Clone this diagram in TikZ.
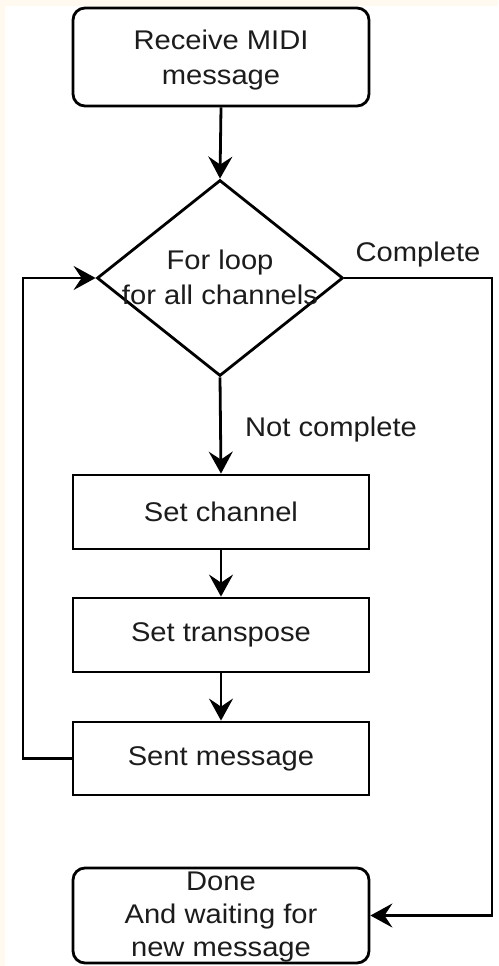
\documentclass[tikz,border=0pt]{standalone}
\usepackage{fontspec}
\setmainfont{Liberation Sans}[FakeStretch=1.08]
\usetikzlibrary{arrows.meta,shapes.geometric}
\definecolor{cream}{HTML}{FFF9F0}
\definecolor{txt}{HTML}{1C1C1C}
\begin{document}
\begin{tikzpicture}[x=1pt,y=-1pt,
  every node/.style={font=\fontsize{27}{35}\selectfont, text=txt},
  box/.style={draw=black, line width=2.8pt, rectangle, minimum width=296pt, inner sep=0pt, align=center},
  rbox/.style={box, rounded corners=12pt},
  dia/.style={draw=black, line width=2.8pt, diamond, minimum width=246pt, minimum height=196pt, inner sep=0pt},
  conn/.style={draw=black, line width=2.8pt, -{Stealth[length=22pt,width=24pt,inset=8pt]}},
  lbl/.style={inner sep=0pt, align=center}
]
\useasboundingbox (0,0) rectangle (498,966);
\fill[cream] (0,0) rectangle (498,966);
\fill[white] (5,6) rectangle (498,966);

\node[rbox, minimum height=98pt] (recv) at (221,57) {};
\node[lbl] (recvtxt) at (221,60) {Receive MIDI\\message};
\node[dia] (loop) at (220,278) {};
\node[lbl] (looptxt) at (220,277) {For loop\\for all channels};
\node[box, minimum height=74pt] (ch) at (221,512) {Set channel};
\node[box, minimum height=74pt] (tr) at (221,635) {Set transpose};
\node[box, minimum height=73pt] (sent) at (221,758.5) {Sent message};
\node[rbox, minimum height=95pt] (done) at (221,915.5) {};
\node[lbl, font=\fontsize{27}{33}\selectfont] (donetxt) at (221,917) {Done\\And waiting for\\new message};

\coordinate (lc) at (23,278);
\coordinate (rc) at (492,278);

\draw[conn] (recv.south) -- (loop.north);
\draw[conn] (loop.south) -- (ch.north);
\draw[conn] (ch.south) -- (tr.north);
\draw[conn] (tr.south) -- (sent.north);
\draw[conn] (sent.west) -| (lc) -- (loop.west);
\draw[conn] (loop.east) -- (rc) |- (done.east);

\node[lbl] (nc) at (331,430) {Not complete};
\node[lbl] (cp) at (418,255) {Complete};
\end{tikzpicture}
\end{document}
